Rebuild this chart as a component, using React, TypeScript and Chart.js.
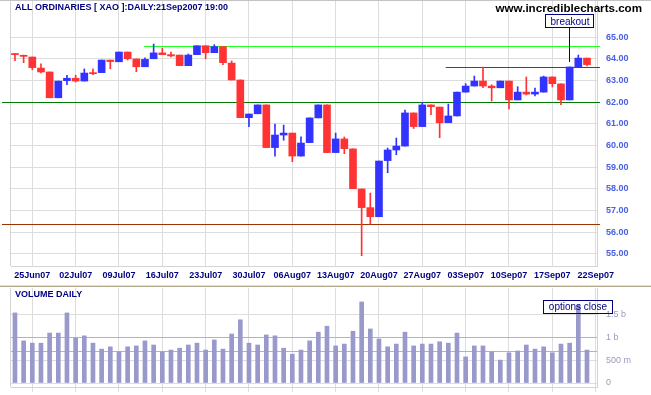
import React, { useEffect, useRef } from "react";
import { Chart, registerables } from "chart.js";

Chart.register(...registerables);

const FONT = '"Liberation Sans", Arial, sans-serif';

// ---- data (21 Jun 2007 .. 21 Sep 2007, daily) ----
const openPrices = [
  64.25, 64.17, 64.09, 63.58, 63.4, 62.21, 63.0, 63.11, 62.98, 63.37,
  63.37, 63.95, 63.87, 64.32, 64.0, 63.64, 64.01, 64.28, 64.2, 64.18,
  63.69, 64.2, 64.61, 64.29, 64.57, 63.81, 63.03, 61.29, 61.47, 61.88,
  59.91, 60.49, 60.58, 59.52, 60.14, 61.28, 61.88, 59.68, 60.31, 59.85,
  58.0, 57.14, 56.72, 59.31, 59.8, 59.98, 61.51, 60.88, 61.88, 61.78,
  61.06, 61.37, 62.47, 62.75, 62.98, 62.75, 62.67, 62.98, 62.11, 62.47,
  62.38, 62.47, 63.17, 62.85, 62.11, 63.63, 64.04,
];
const highPrices = [
  64.25, 64.18, 64.09, 63.77, 63.4, 62.98, 63.25, 63.25, 63.54, 63.54,
  63.95, 63.95, 64.32, 64.32, 64.0, 64.05, 64.69, 64.49, 64.32, 64.18,
  64.23, 64.61, 64.61, 64.66, 64.57, 63.91, 63.03, 61.46, 61.88, 61.88,
  61.0, 60.95, 60.58, 60.41, 61.28, 61.88, 61.88, 60.58, 60.4, 59.85,
  58.0, 57.81, 59.29, 59.89, 60.35, 61.64, 61.51, 62.0, 61.88, 61.78,
  61.92, 62.47, 62.86, 63.21, 63.62, 62.81, 62.98, 62.98, 62.72, 63.17,
  62.66, 63.21, 63.17, 62.85, 63.63, 64.18, 64.04,
];
const lowPrices = [
  63.92, 63.83, 63.5, 63.36, 62.21, 62.21, 62.81, 62.94, 62.98, 63.27,
  63.37, 63.55, 63.87, 63.95, 63.41, 63.64, 64.01, 64.2, 64.1, 63.69,
  63.69, 64.2, 64.01, 64.29, 63.74, 63.03, 61.29, 60.87, 61.47, 59.91,
  59.52, 60.25, 59.26, 59.52, 60.14, 61.28, 59.68, 59.68, 59.63, 58.01,
  54.92, 56.38, 56.72, 58.75, 59.58, 59.98, 60.79, 60.88, 61.43, 60.37,
  61.06, 61.37, 62.47, 62.75, 62.67, 62.06, 62.67, 61.69, 62.11, 62.34,
  62.29, 62.47, 62.71, 61.89, 62.11, 63.63, 63.68,
];
const closePrices = [
  64.2, 64.12, 63.6, 63.4, 62.21, 62.98, 63.11, 62.98, 63.35, 63.32,
  63.95, 63.88, 64.32, 64.01, 63.64, 63.98, 64.28, 64.2, 64.14, 63.69,
  64.18, 64.61, 64.29, 64.57, 63.83, 63.03, 61.29, 61.46, 61.88, 59.91,
  60.49, 60.58, 59.52, 60.12, 61.28, 61.88, 59.68, 60.31, 59.86, 58.01,
  57.14, 56.72, 59.29, 59.8, 59.98, 61.51, 60.88, 61.88, 61.8, 61.06,
  61.37, 62.47, 62.75, 62.98, 62.75, 62.67, 62.98, 62.11, 62.47, 62.38,
  62.47, 63.17, 62.86, 62.11, 63.63, 64.04, 63.74,
];
// volume in billions of shares
const volumesBn = [
  1.53, 0.92, 0.87, 0.87, 1.09, 1.09, 1.53, 0.98, 1.03, 0.87,
  0.74, 0.79, 0.68, 0.79, 0.81, 0.92, 0.83, 0.68, 0.72, 0.76,
  0.83, 0.87, 0.72, 0.94, 0.74, 1.07, 1.38, 0.87, 0.83, 1.05,
  1.03, 0.76, 0.63, 0.72, 0.92, 1.11, 1.24, 0.81, 0.85, 1.13,
  1.77, 1.18, 0.96, 0.79, 0.85, 1.11, 0.81, 0.85, 0.85, 0.9,
  0.87, 1.09, 0.57, 0.81, 0.81, 0.68, 0.5, 0.66, 0.7, 0.83,
  0.74, 0.79, 0.66, 0.85, 0.87, 1.7, 0.72,
];

const weekTickIndex = [2, 7, 12, 17, 22, 27, 32, 37, 42, 47, 52, 57, 62, 67];
const weekTickLabels = [
  "25Jun07", "02Jul07", "09Jul07", "16Jul07", "23Jul07", "30Jul07", "06Aug07",
  "13Aug07", "20Aug07", "27Aug07", "03Sep07", "10Sep07", "17Sep07", "22Sep07",
];
const priceTickValues = [55, 56, 57, 58, 59, 60, 61, 62, 63, 64, 65];
const volumeTickValues = [0, 0.5, 1, 1.5];
const volumeTickLabels = ["0", "500 m", "1 b", "1.5 b"];

// support / resistance levels
const levelValues = [64.6, 63.63, 62.0, 56.37];
const levelStartIndex: (number | null)[] = [14.9, 49.7, null, null];
const levelColors = ["#22ff22", "#007a00", "#007a00", "#993300"];
const volumeRefValues = [1.0, 0.7];

const breakoutIndex = 64;
const optionsCloseIndex = 65;

const TITLE = "ALL ORDINARIES [ XAO ]:DAILY:21Sep2007 19:00";
const SITE = "www.incrediblecharts.com";

const X_MIN = -0.458;
const X_MAX = 67.155;
const RED = "#ff3333";
const BLUE = "#3333ff";
const NAVY = "#000080";
const GRID = "#dddddd";

function hLine(ctx: CanvasRenderingContext2D, x0: number, x1: number, y: number, color: string) {
  ctx.strokeStyle = color;
  ctx.lineWidth = 1;
  ctx.beginPath();
  const yy = Math.round(y) + 0.5;
  ctx.moveTo(x0, yy);
  ctx.lineTo(x1, yy);
  ctx.stroke();
}

function vLine(ctx: CanvasRenderingContext2D, x: number, y0: number, y1: number, color: string) {
  ctx.strokeStyle = color;
  ctx.lineWidth = 1;
  ctx.beginPath();
  const xx = Math.round(x) + 0.5;
  ctx.moveTo(xx, y0);
  ctx.lineTo(xx, y1);
  ctx.stroke();
}

export default function App() {
  const priceRef = useRef<HTMLCanvasElement>(null);
  const volRef = useRef<HTMLCanvasElement>(null);

  useEffect(() => {
    const idx = openPrices.map((_, i) => i);
    const colors = idx.map((i) => (closePrices[i] >= openPrices[i] ? BLUE : RED));

    const xTicks = (s: any) => {
      s.ticks = weekTickIndex.map((v) => ({ value: v }));
    };

    const pricePlugin = {
      id: "priceDecor",
      beforeDatasetsDraw(chart: any) {
        const { ctx, chartArea, scales } = chart;
        const x = scales.x;
        const y = scales.y;
        ctx.save();
        vLine(ctx, chartArea.left - 1, chartArea.top, chartArea.bottom, "#d4d4d4");
        levelValues.forEach((v, i) => {
          const st = levelStartIndex[i];
          const x0 = st == null ? 2 : x.getPixelForValue(st);
          hLine(ctx, x0, chartArea.right + 3, y.getPixelForValue(v), levelColors[i]);
        });
        ctx.restore();
      },
      afterDraw(chart: any) {
        const { ctx, width, scales } = chart;
        const x = scales.x;
        const y = scales.y;
        ctx.save();
        hLine(ctx, 0, width, 0, "#c4c4c4");
        hLine(ctx, 0, width, 285, "#e4e0cc");
        hLine(ctx, 0, width, 286, "#b0a888");
        ctx.textBaseline = "alphabetic";
        ctx.textAlign = "left";
        ctx.fillStyle = NAVY;
        ctx.font = `bold 9px ${FONT}`;
        ctx.fillText(TITLE, 15, 10);
        ctx.textAlign = "right";
        ctx.fillStyle = "#000000";
        ctx.font = `bold 11.6px ${FONT}`;
        ctx.fillText(SITE, 642, 11.5);
        // breakout annotation
        const bx = x.getPixelForValue(breakoutIndex);
        const left = Math.round(bx - 25) + 0.5;
        ctx.fillStyle = "#ffffff";
        ctx.fillRect(left, 14.5, 48, 13);
        ctx.strokeStyle = NAVY;
        ctx.lineWidth = 1;
        ctx.strokeRect(left, 14.5, 48, 13);
        vLine(ctx, bx - 1, 27.5, y.getPixelForValue(highPrices[breakoutIndex]) - 5, NAVY);
        ctx.fillStyle = NAVY;
        ctx.textAlign = "center";
        ctx.font = `10px ${FONT}`;
        ctx.fillText("breakout", left + 24.5, 25);
        ctx.restore();
      },
    };

    const pc = new Chart(priceRef.current!, {
      type: "bar",
      data: {
        datasets: [
          {
            label: "body",
            data: idx.map((i) => ({ x: i, y: [openPrices[i], closePrices[i]] })) as any,
            backgroundColor: colors,
            barThickness: 7,
            minBarLength: 1,
            grouped: false,
            borderWidth: 0,
          },
          {
            label: "wick",
            data: idx.map((i) => ({ x: i, y: [lowPrices[i], highPrices[i]] })) as any,
            backgroundColor: colors,
            barThickness: 1,
            grouped: false,
            borderWidth: 0,
          },
        ],
      },
      options: {
        animation: false,
        responsive: false,
        devicePixelRatio: 1,
        layout: { padding: { left: 11, top: 1, right: 0, bottom: 0 } },
        plugins: { legend: { display: false }, tooltip: { enabled: false } },
        scales: {
          x: {
            type: "linear",
            offset: false,
            min: X_MIN,
            max: X_MAX,
            afterBuildTicks: xTicks,
            afterFit: (s: any) => {
              s.height = 21;
              s.paddingLeft = 0;
              s.paddingRight = 0;
            },
            grid: { color: GRID, drawTicks: false, offset: false },
            border: { color: "#d4d4d4" },
            ticks: {
              autoSkip: false,
              maxRotation: 0,
              padding: 4.6,
              color: NAVY,
              font: { family: FONT, size: 9, weight: "bold" },
              callback: (v: any) => weekTickLabels[weekTickIndex.indexOf(v)] ?? "",
            },
          },
          y: {
            type: "linear",
            position: "right",
            min: 54.446,
            max: 66.675,
            afterBuildTicks: (s: any) => {
              s.ticks = priceTickValues.map((v) => ({ value: v }));
            },
            afterFit: (s: any) => {
              s.width = 54;
              s.paddingTop = 0;
              s.paddingBottom = 0;
            },
            grid: { color: GRID, drawTicks: false },
            border: { color: "#d4d4d4" },
            ticks: {
              padding: 9,
              color: "#4a60e4",
              font: { family: FONT, size: 9, weight: "bold" },
              callback: (v: any) => Number(v).toFixed(2),
            },
          },
        },
      },
      plugins: [pricePlugin],
    } as any);

    const volPlugin = {
      id: "volDecor",
      beforeDatasetsDraw(chart: any) {
        const { ctx, chartArea, scales } = chart;
        ctx.save();
        vLine(ctx, chartArea.left - 1, chartArea.top, chartArea.bottom, "#d4d4d4");
        volumeRefValues.forEach((v) => {
          hLine(ctx, chartArea.left, chartArea.right, scales.y.getPixelForValue(v), "#b4b4b4");
        });
        ctx.restore();
      },
      afterDraw(chart: any) {
        const { ctx, scales } = chart;
        ctx.save();
        ctx.fillStyle = NAVY;
        ctx.font = `bold 9px ${FONT}`;
        ctx.textAlign = "left";
        ctx.textBaseline = "alphabetic";
        ctx.fillText("VOLUME DAILY", 15, 9.7);
        const ox = scales.x.getPixelForValue(optionsCloseIndex);
        const left = Math.round(ox - 35) + 0.5;
        ctx.strokeStyle = NAVY;
        ctx.lineWidth = 1;
        ctx.strokeRect(left, 13.5, 69, 13);
        ctx.textAlign = "center";
        ctx.font = `10px ${FONT}`;
        ctx.fillText("options close", left + 34.5, 23);
        ctx.restore();
      },
    };

    const vc = new Chart(volRef.current!, {
      type: "bar",
      data: {
        datasets: [
          {
            label: "volume",
            data: idx.map((i) => ({ x: i, y: volumesBn[i] })) as any,
            backgroundColor: "#9999cc",
            barThickness: 4,
            borderWidth: 0,
          },
        ],
      },
      options: {
        animation: false,
        responsive: false,
        devicePixelRatio: 1,
        layout: { padding: { left: 11, top: 1, right: 0, bottom: 0 } },
        plugins: { legend: { display: false }, tooltip: { enabled: false } },
        scales: {
          x: {
            type: "linear",
            offset: false,
            min: X_MIN,
            max: X_MAX,
            afterBuildTicks: xTicks,
            afterFit: (s: any) => {
              s.height = 8;
              s.paddingLeft = 0;
              s.paddingRight = 0;
            },
            grid: { color: GRID, drawTicks: true, tickLength: 5, offset: false },
            border: { color: "#d4d4d4" },
            ticks: { display: false },
          },
          y: {
            type: "linear",
            position: "right",
            min: -0.087,
            max: 2.074,
            afterBuildTicks: (s: any) => {
              s.ticks = volumeTickValues.map((v) => ({ value: v }));
            },
            afterFit: (s: any) => {
              s.width = 54;
              s.paddingTop = 0;
              s.paddingBottom = 0;
            },
            grid: { color: GRID, drawTicks: false },
            border: { color: "#d4d4d4" },
            ticks: {
              padding: 9,
              color: "#9a9ac0",
              font: { family: FONT, size: 9 },
              callback: (v: any) => volumeTickLabels[volumeTickValues.indexOf(v)] ?? "",
            },
          },
        },
      },
      plugins: [volPlugin],
    } as any);

    return () => {
      pc.destroy();
      vc.destroy();
    };
  }, []);

  return (
    <div style={{ position: "absolute", left: 0, top: 0, width: 651, height: 395, background: "#ffffff" }}>
      <canvas
        ref={priceRef}
        width={651}
        height={287}
        style={{ position: "absolute", left: 0, top: 0, width: 651, height: 287, display: "block" }}
      />
      <canvas
        ref={volRef}
        width={651}
        height={108}
        style={{ position: "absolute", left: 0, top: 287, width: 651, height: 108, display: "block" }}
      />
    </div>
  );
}
